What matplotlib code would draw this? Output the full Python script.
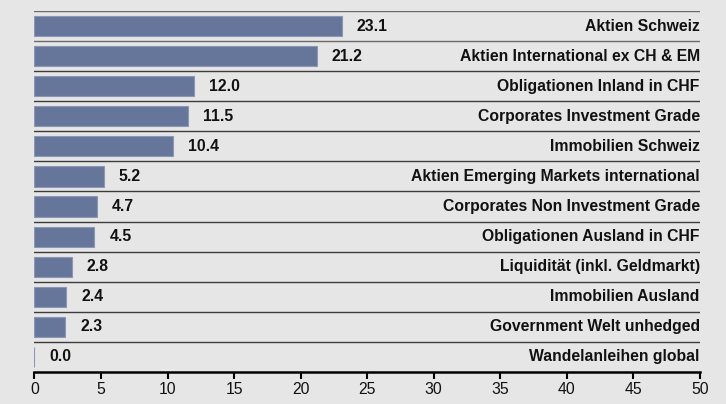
import matplotlib
matplotlib.use('Agg')
import matplotlib.pyplot as plt

# Allocation by asset class, in percent
categories = ['Aktien Schweiz', 'Aktien International ex CH & EM',
              'Obligationen Inland in CHF', 'Corporates Investment Grade',
              'Immobilien Schweiz', 'Aktien Emerging Markets international',
              'Corporates Non Investment Grade', 'Obligationen Ausland in CHF',
              'Liquidität (inkl. Geldmarkt)', 'Immobilien Ausland',
              'Government Welt unhedged', 'Wandelanleihen global']
values = [23.1, 21.2, 12.0, 11.5, 10.4, 5.2, 4.7, 4.5, 2.8, 2.4, 2.3, 0.0]
xticks = [0, 5, 10, 15, 20, 25, 30, 35, 40, 45, 50]

plt.rcParams['font.family'] = ['Liberation Sans', 'DejaVu Sans']
bg = '#e6e6e6'
bar_color = '#66769a'

fig = plt.figure(figsize=(7.26, 4.04), dpi=100, facecolor=bg)
ax = fig.add_axes([0.0475, 0.0792, 0.9165, 0.8936], facecolor=bg)

n = len(categories)
ypos = list(range(n))
ax.barh(ypos, values, height=0.67, color=bar_color,
        edgecolor='#8c97b3', linewidth=0.8, zorder=2)

ax.set_xlim(0, 50)
ax.set_ylim(n - 0.5, -0.5)

# row separators: the top two are a lighter grey
for i in range(n):
    ax.axhline(i - 0.5, color='#6a6a6a' if i < 2 else '#3c3c3c', lw=1.0, zorder=1)

for y, v, name in zip(ypos, values, categories):
    ax.annotate(f'{v:.1f}', (v, y), xytext=(15, 0), textcoords='offset pixels',
                ha='left', va='center', fontsize=11.3, fontweight='bold',
                color='#111111')
    ax.text(50, y, name, ha='right', va='center', fontsize=11.3,
            fontweight='bold', color='#111111')

ax.set_xticks(xticks)
ax.set_xticklabels([str(t) for t in xticks], fontsize=11.3, color='#111111')
ax.set_yticks([])
ax.tick_params(axis='x', length=5, width=1.5, color='black', pad=2)
for s in ['top', 'right', 'left']:
    ax.spines[s].set_visible(False)
ax.spines['bottom'].set_linewidth(1.8)
ax.spines['bottom'].set_color('black')

fig.savefig('out.png', dpi=100, facecolor=bg)
